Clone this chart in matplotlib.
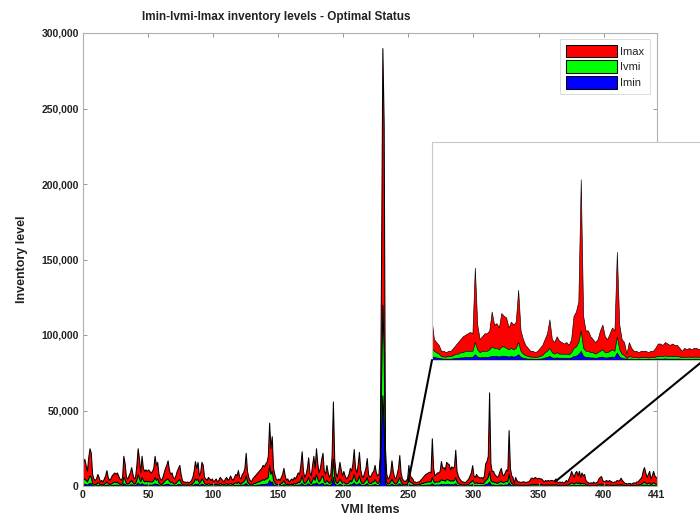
import numpy as np
import matplotlib
matplotlib.use("Agg")
import matplotlib.pyplot as plt
from matplotlib.ticker import FuncFormatter
from matplotlib.patches import ConnectionPatch

plt.rcParams['font.family'] = ['Liberation Sans', 'DejaVu Sans']

# inventory levels per VMI item (in thousands), items 0..441
imax_k = [
    16, 18, 14, 10, 19, 25, 22, 8, 5, 4,
    5, 8, 6, 3, 4, 3, 5, 7, 10.5, 6,
    4, 5, 7, 8, 9, 8, 9, 7, 5, 4,
    6, 20, 15, 6, 5, 7, 9, 12.5, 8, 5,
    6, 14, 25, 18, 9, 20, 12, 10, 11, 10,
    11, 10, 9, 10, 12, 20, 14, 16, 8, 5,
    4, 6, 9, 12, 14, 17, 11, 8, 9, 6,
    5, 7, 10, 12, 14, 8, 4, 3, 3, 2.5,
    3, 2.5, 3, 4, 6, 10, 16.5, 12, 16, 7,
    9, 16, 14, 6, 5, 4, 6, 5, 4, 5,
    3, 4, 5, 3, 4, 6, 5, 4, 3, 5,
    6, 4, 5, 7, 5, 4, 6, 8, 7, 10.6,
    6, 5, 8, 9, 12, 22, 10, 6, 4, 3,
    5, 6, 7, 8, 9, 10, 11, 12, 14, 13,
    15, 16, 20, 42, 25, 33, 12, 8, 5, 4,
    5, 4, 6, 8, 12, 7, 4, 5, 3, 4,
    5, 4, 6, 5, 7, 9, 8, 14, 23, 10,
    6, 8, 12, 19, 9, 7, 14, 20, 12, 25,
    15, 9, 12, 18, 22, 10, 8, 14, 9, 6,
    8, 20, 56, 18, 9, 6, 10, 16, 11, 7,
    10, 7, 5, 6, 8, 12, 10, 15, 24.5, 12,
    9, 14, 22.6, 11, 7, 6, 9, 12, 18.5, 8,
    6, 7, 9, 10, 14, 9, 7, 8, 20, 150,
    290, 240, 25, 8, 5, 6, 9, 17, 10, 6,
    5, 8, 12, 20.5, 9, 5, 4, 3, 4, 5,
    14, 7, 6, 5, 3, 3, 2.5, 3, 3, 4,
    5, 6, 7, 8, 8.5, 9, 9.5, 9, 31.6, 12,
    7, 8, 9, 9, 10, 16.5, 12, 12.5, 11, 16,
    15, 14.5, 11, 13, 12, 13, 24, 10, 7, 5,
    4, 3, 3, 2.5, 3, 4, 5, 7, 9, 13.8,
    7, 6, 8, 6.5, 6, 5.5, 6, 5, 7, 15,
    16.5, 20, 62, 15, 10, 10, 8, 7, 6, 7,
    10, 12, 8, 7, 9, 11, 10, 37, 12, 7,
    6, 2, 6, 4, 3, 3, 2.5, 3, 3, 3,
    2.5, 3, 3, 4, 5.5, 5.5, 5, 6, 5.5, 5,
    5.5, 5, 5, 4, 3, 4, 3.5, 4, 3.5, 4,
    4, 3.5, 4, 5, 3, 2.5, 3, 2.5, 3, 2,
    3, 4, 3, 5, 7, 10, 8, 6, 9, 10,
    7, 10, 6, 9, 7, 8, 4, 3, 2.5, 2,
    2.5, 2, 3, 2, 2.5, 3, 5, 6, 6.6, 4,
    3, 3.5, 4, 3, 4, 3.5, 3, 2.5, 3, 3,
    4, 3.5, 4, 5.5, 4, 3, 2, 2, 1.5, 2,
    2, 1.5, 2, 2.5, 2, 3, 3, 4, 5, 6,
    10, 12.5, 9, 6, 8, 10, 5, 7, 10, 7,
    6, 5,
]

ivmi_k = [
    4, 5, 4, 3, 5, 7, 6, 2, 1.5, 1.2,
    1.5, 2.5, 2, 1, 1.2, 1, 1.5, 2, 3, 2,
    1.2, 1.5, 2, 2.5, 3, 2.5, 3, 2, 1.5, 1.2,
    2, 6, 4.5, 2, 1.5, 2, 3, 4, 2.5, 1.5,
    2, 4, 8, 5, 3, 6, 4, 3, 3.5, 3,
    3.5, 3, 3, 3, 4, 6, 4, 5, 2.5, 1.5,
    1.2, 2, 3, 4, 4.5, 5, 3.5, 2.5, 3, 2,
    1.5, 2, 3, 4, 4.5, 2.5, 1.2, 1, 1, 0.8,
    1, 0.8, 1, 1.2, 2, 3, 5, 4, 5, 2,
    3, 5, 4, 2, 1.5, 1.2, 2, 1.5, 1.2, 1.5,
    1, 1.2, 1.5, 1, 1.2, 2, 1.5, 1.2, 1, 1.5,
    2, 1.2, 1.5, 2, 1.5, 1.2, 2, 2.5, 2, 3,
    2, 1.5, 2.5, 3, 4, 7, 3, 2, 1.2, 1,
    1.5, 2, 2, 2.5, 3, 3, 3.5, 4, 4.5, 4,
    5, 5, 6, 14, 8, 10, 4, 2.5, 1.5, 1.2,
    1.5, 1.2, 2, 2.5, 4, 2, 1.2, 1.5, 1, 1.2,
    1.5, 1.2, 2, 1.5, 2, 3, 2.5, 4, 7, 3,
    2, 2.5, 4, 6, 3, 2, 4, 6, 4, 8,
    5, 3, 4, 6, 7, 3, 2.5, 4, 3, 2,
    2.5, 6, 18, 6, 3, 2, 3, 5, 3.5, 2,
    3, 2, 1.5, 2, 2.5, 4, 3, 5, 8, 4,
    3, 4.5, 7, 3.5, 2, 2, 3, 4, 6, 2.5,
    2, 2, 3, 3, 4.5, 3, 2, 2.5, 6, 70,
    120, 90, 8, 2.5, 1.5, 2, 3, 5, 3, 2,
    1.5, 2.5, 4, 6, 3, 1.5, 1.2, 1, 1.2, 1.5,
    4, 3, 2.5, 2, 1.2, 1, 1, 1.2, 1.2, 1.5,
    2, 2, 2.5, 2.5, 3, 3, 3, 3, 6, 3.5,
    2.5, 3, 3, 3, 3.5, 4.5, 4, 4, 3.5, 4.5,
    4.5, 4, 3.5, 4, 3.5, 4, 6, 3, 2, 1.5,
    1.2, 1, 1, 0.8, 1, 1.2, 1.5, 2.5, 3, 4,
    2.5, 2, 2.5, 2, 2, 2, 2, 1.8, 2.5, 4,
    4.5, 6, 10, 4, 3, 3, 2.5, 2.5, 2, 2.5,
    3, 3.5, 2.5, 2.5, 3, 3.5, 3, 8, 3.5, 2,
    1.5, 0.5, 1.2, 1, 0.8, 0.8, 0.7, 0.8, 0.8, 0.8,
    0.7, 0.8, 0.8, 1, 1.2, 1.2, 1.2, 1.4, 1.2, 1.2,
    1.2, 1.2, 1.2, 1, 0.8, 1, 0.9, 1, 0.9, 1,
    1, 0.9, 1, 1.2, 0.8, 0.7, 0.8, 0.7, 0.8, 0.6,
    0.8, 1, 0.8, 1.2, 1.8, 2.5, 2, 1.5, 2.2, 2.5,
    1.8, 2.5, 1.5, 2.2, 1.8, 2, 1, 0.8, 0.7, 0.6,
    0.7, 0.6, 0.8, 0.6, 0.7, 0.8, 1.2, 1.5, 1.6, 1,
    0.8, 0.9, 1, 0.8, 1, 0.9, 0.8, 0.7, 0.8, 0.8,
    1, 0.9, 1, 1.4, 1, 0.8, 0.6, 0.6, 0.5, 0.6,
    0.6, 0.5, 0.6, 0.7, 0.6, 0.8, 0.8, 1, 1.2, 1.5,
    2.5, 3, 2.2, 1.5, 2, 2.5, 1.2, 1.8, 2.5, 1.8,
    1.5, 1.2,
]

imin_k = [
    1.2, 1.5, 1.2, 0.8, 1.5, 2, 1.8, 0.6, 0.4, 0.3,
    0.4, 0.7, 0.6, 0.3, 0.3, 0.3, 0.4, 0.6, 0.9, 0.6,
    0.3, 0.4, 0.6, 0.7, 0.9, 0.7, 0.9, 0.6, 0.4, 0.3,
    0.6, 1.8, 1.3, 0.6, 0.4, 0.6, 0.9, 1.2, 0.7, 0.4,
    0.6, 1.2, 2.4, 1.5, 0.9, 1.8, 1.2, 0.9, 1, 0.9,
    1, 0.9, 0.9, 0.9, 1.2, 1.8, 1.2, 1.5, 0.7, 0.4,
    0.3, 0.6, 0.9, 1.2, 1.3, 1.5, 1, 0.7, 0.9, 0.6,
    0.4, 0.6, 0.9, 1.2, 1.3, 0.7, 0.3, 0.3, 0.3, 0.2,
    0.3, 0.2, 0.3, 0.3, 0.6, 0.9, 1.5, 1.2, 1.5, 0.6,
    0.9, 1.5, 1.2, 0.6, 0.4, 0.3, 0.6, 0.4, 0.3, 0.4,
    0.3, 0.3, 0.4, 0.3, 0.3, 0.6, 0.4, 0.3, 0.3, 0.4,
    0.6, 0.3, 0.4, 0.6, 0.4, 0.3, 0.6, 0.7, 0.6, 0.9,
    0.6, 0.4, 0.7, 0.9, 1.2, 2, 0.9, 0.6, 0.3, 0.3,
    0.4, 0.6, 0.6, 0.7, 0.9, 0.9, 1, 1.2, 1.3, 1.2,
    1.5, 1.5, 1.8, 4, 2.4, 3, 1.2, 0.7, 0.4, 0.3,
    0.4, 0.3, 0.6, 0.7, 1.2, 0.6, 0.3, 0.4, 0.3, 0.3,
    0.4, 0.3, 0.6, 0.4, 0.6, 0.9, 0.7, 1.2, 2, 0.9,
    0.6, 0.7, 1.2, 1.8, 0.9, 0.6, 1.2, 1.8, 1.2, 2.4,
    1.5, 0.9, 1.2, 1.8, 2, 0.9, 0.7, 1.2, 0.9, 0.6,
    0.7, 1.8, 6, 1.8, 0.9, 0.6, 0.9, 1.5, 1, 0.6,
    0.9, 0.6, 0.4, 0.6, 0.7, 1.2, 0.9, 1.5, 2.4, 1.2,
    0.9, 1.3, 2, 1, 0.6, 0.6, 0.9, 1.2, 1.8, 0.7,
    0.6, 0.6, 0.9, 0.9, 1.3, 0.9, 0.6, 0.7, 1.8, 35,
    60, 40, 2.4, 0.7, 0.4, 0.6, 0.9, 1.5, 0.9, 0.6,
    0.4, 0.7, 1.2, 1.8, 0.9, 0.4, 0.3, 0.3, 0.3, 0.4,
    1.2, 0.9, 0.7, 0.6, 0.4, 0.3, 0.3, 0.3, 0.3, 0.4,
    0.6, 0.6, 0.7, 0.7, 0.9, 0.9, 0.9, 0.9, 1.8, 1,
    0.7, 0.9, 0.9, 0.9, 1, 1.3, 1.2, 1.2, 1, 1.3,
    1.3, 1.2, 1, 1.2, 1, 1.2, 1.8, 0.9, 0.6, 0.4,
    0.3, 0.3, 0.3, 0.2, 0.3, 0.3, 0.4, 0.7, 0.9, 1.2,
    0.7, 0.6, 0.7, 0.6, 0.6, 0.6, 0.6, 0.5, 0.7, 1.2,
    1.3, 1.8, 3, 1.2, 0.9, 0.9, 0.7, 0.7, 0.6, 0.7,
    0.9, 1, 0.7, 0.7, 0.9, 1, 0.9, 2.4, 1, 0.6,
    0.4, 0.2, 0.3, 0.3, 0.2, 0.2, 0.2, 0.2, 0.2, 0.2,
    0.2, 0.2, 0.2, 0.3, 0.3, 0.3, 0.3, 0.4, 0.3, 0.3,
    0.3, 0.3, 0.3, 0.3, 0.2, 0.3, 0.2, 0.3, 0.2, 0.3,
    0.3, 0.2, 0.3, 0.3, 0.2, 0.2, 0.2, 0.2, 0.2, 0.2,
    0.2, 0.3, 0.2, 0.3, 0.5, 0.7, 0.6, 0.4, 0.6, 0.7,
    0.5, 0.7, 0.4, 0.6, 0.5, 0.6, 0.3, 0.2, 0.2, 0.2,
    0.2, 0.2, 0.2, 0.2, 0.2, 0.2, 0.3, 0.4, 0.5, 0.3,
    0.2, 0.3, 0.3, 0.2, 0.3, 0.3, 0.2, 0.2, 0.2, 0.2,
    0.3, 0.3, 0.3, 0.4, 0.3, 0.2, 0.2, 0.2, 0.1, 0.2,
    0.2, 0.1, 0.2, 0.2, 0.2, 0.2, 0.2, 0.3, 0.3, 0.4,
    0.7, 0.9, 0.7, 0.4, 0.6, 0.7, 0.3, 0.5, 0.7, 0.5,
    0.4, 0.3,
]

x_ticks = [0, 50, 100, 150, 200, 250, 300, 350, 400, 441]
y_ticks = [0, 50000, 100000, 150000, 200000, 250000, 300000]
zoom_range = (250, 363)

items = np.arange(len(imax_k))
imax = np.array(imax_k) * 1000
ivmi = np.array(ivmi_k) * 1000
imin = np.array(imin_k) * 1000

frame_col = '#b0b0b0'
text_col = '#222222'


def draw_areas(ax, lw):
    ax.fill_between(items, 0, imax, facecolor='#ff0000', edgecolor='black', linewidth=lw, label='Imax')
    ax.fill_between(items, 0, ivmi, facecolor='#00ff00', edgecolor='black', linewidth=lw, label='Ivmi')
    ax.fill_between(items, 0, imin, facecolor='#0000ff', edgecolor='black', linewidth=lw, label='Imin')


fig = plt.figure(figsize=(7, 5.23), dpi=100)
ax = fig.add_axes([83 / 700, 37 / 523, 574 / 700, 453 / 523])
draw_areas(ax, 0.75)

ax.set_xlim(0, 441)
ax.set_ylim(0, 300000)
ax.set_xticks(x_ticks)
ax.set_yticks(y_ticks)
ax.yaxis.set_major_formatter(FuncFormatter(lambda v, p: f'{int(v):,}'))
ax.tick_params(direction='in', length=3, width=0.6, color='#888888',
               top=True, right=True, labelsize=7.5, labelcolor=text_col, pad=3)
for lab in ax.get_xticklabels() + ax.get_yticklabels():
    lab.set_fontweight('bold')
for sp in ax.spines.values():
    sp.set_color(frame_col)
    sp.set_linewidth(0.8)

fig.text(276 / 700, 1 - 17 / 523, 'Imin-Ivmi-Imax inventory levels - Optimal Status',
         fontsize=8.5, fontweight='bold', color=text_col, ha='center', va='center')
ax.set_xlabel('VMI Items', fontsize=9, fontweight='bold', color=text_col, labelpad=3)
ax.set_ylabel('Inventory level', fontsize=9, fontweight='bold', color=text_col, labelpad=10)

leg = ax.legend(loc='upper right', fontsize=8, frameon=True, fancybox=False,
                handlelength=4.6, handleheight=1.4, borderpad=0.5, labelspacing=0.25,
                handletextpad=0.3, borderaxespad=0.3, bbox_to_anchor=(0.993, 0.994))
leg.get_frame().set_edgecolor('#cccccc')
leg.get_frame().set_linewidth(0.6)
for t in leg.get_texts():
    t.set_color(text_col)

# zoomed inset
axin = fig.add_axes([432 / 700, 163 / 523, 272 / 700, 218 / 523])
draw_areas(axin, 0.45)
axin.set_xlim(*zoom_range)
axin.set_ylim(0, 75000)
axin.set_xticks([])
axin.set_yticks([])
for sp in axin.spines.values():
    sp.set_color('#c8c8c8')
    sp.set_linewidth(0.8)

for xa, xb in [(zoom_range[0], zoom_range[0]), (zoom_range[1], zoom_range[1])]:
    con = ConnectionPatch(xyA=(xa, 0), coordsA=axin.transData,
                          xyB=(xb, 3000), coordsB=ax.transData,
                          color='black', linewidth=1.5)
    fig.add_artist(con)

fig.savefig('out.png', dpi=100)
